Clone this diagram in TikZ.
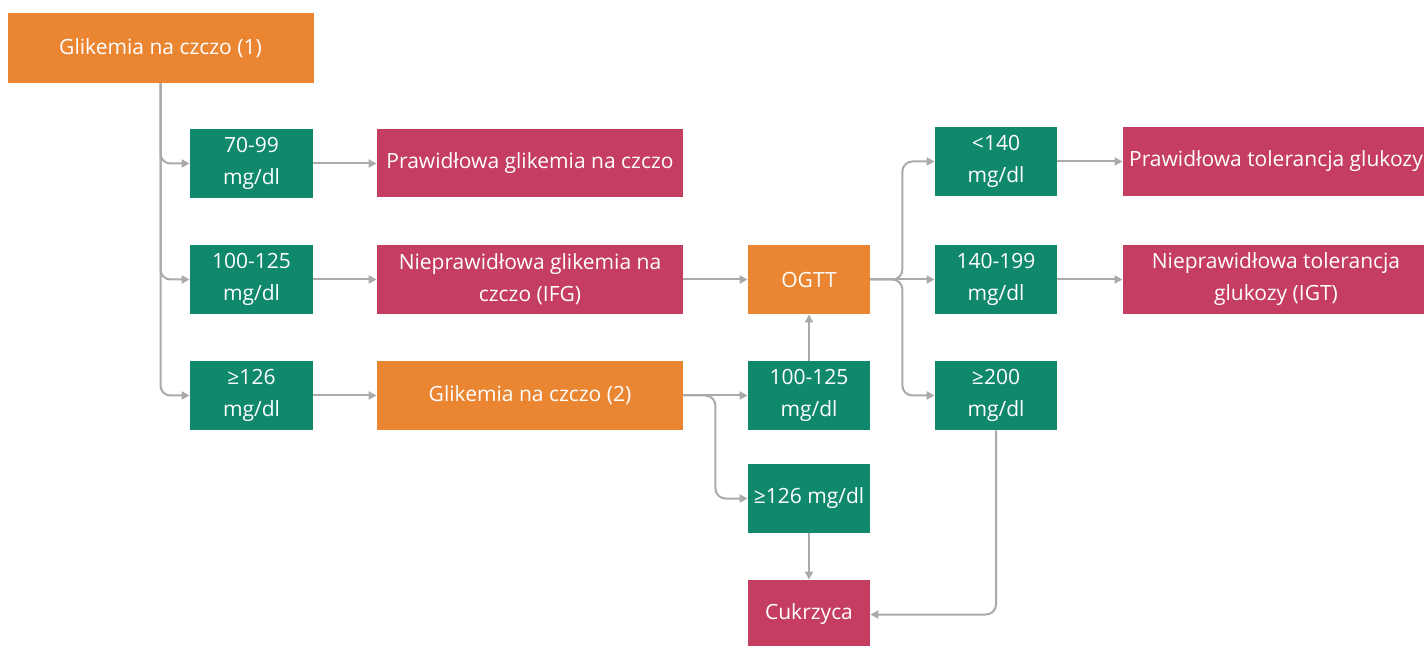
\documentclass[tikz,border=0pt]{standalone}
\usepackage{fontspec}
\setmainfont{Open Sans}
\usetikzlibrary{arrows.meta}
\definecolor{pomarancz}{RGB}{234,133,50}
\definecolor{zielen}{RGB}{15,136,107}
\definecolor{roz}{RGB}{197,62,98}
\definecolor{szary}{RGB}{170,170,170}
\begin{document}
\begin{tikzpicture}[x=0.5pt,y=-0.5pt,
    blok/.style={inner sep=0pt,align=center,text=white,font=\fontsize{10.5}{16}\selectfont},
    badanie/.style={blok,fill=pomarancz,minimum width=153pt,minimum height=34.5pt},
    pomiar/.style={blok,fill=zielen,minimum width=61.5pt,minimum height=34.5pt},
    wynik/.style={blok,fill=roz,minimum width=153pt,minimum height=34pt},
    conn/.style={draw=szary,line width=1pt,rounded corners=5pt,-{Triangle[length=4pt,width=4pt]}}]
  \useasboundingbox (0,0) rectangle (1424,646);
  \node[badanie,minimum height=35pt] (start) at (160.5,48) {Glikemia na czczo (1)};
  \node[pomiar] (g1) at (251.5,163.5) {70-99\\mg/dl};
  \node[pomiar] (g2) at (251.5,279.5) {100-125\\mg/dl};
  \node[pomiar] (g3) at (251.5,395.5) {≥126\\mg/dl};
  \node[wynik] (p1) at (530,163.5) {Prawidłowa glikemia na czczo};
  \node[wynik,minimum height=34.5pt] (p2) at (530,279.5) {Nieprawidłowa glikemia na\\czczo (IFG)};
  \node[badanie] (o2) at (530,395.5) {Glikemia na czczo (2)};
  \node[badanie,minimum width=61pt] (ogtt) at (809,279.5) {OGTT};
  \node[pomiar,minimum width=61pt] (g4) at (809,395.5) {100-125\\mg/dl};
  \node[pomiar,minimum width=61pt] (g5) at (809,498.5) {≥126 mg/dl};
  \node[wynik,minimum width=61pt,minimum height=34.5pt] (cuk) at (809,614.5) {Cukrzyca};
  \node[pomiar,minimum width=61pt] (g6) at (996,161.5) {<140\\mg/dl};
  \node[pomiar,minimum width=61pt] (g7) at (996,279.5) {140-199\\mg/dl};
  \node[pomiar,minimum width=61pt] (g8) at (996,395.5) {≥200\\mg/dl};
  \node[wynik,minimum height=34.5pt] (p3) at (1276,161.5) {Prawidłowa tolerancja glukozy};
  \node[wynik,minimum height=34.5pt] (p4) at (1276,279.5) {Nieprawidłowa tolerancja\\glukozy (IGT)};
  \foreach \c in {g1,g2,g3}
    \draw[conn] (start.south) |- (\c.west);
  \foreach \a\b in {g1/p1,g2/p2,g3/o2,p2/ogtt,o2/g4,ogtt/g7,g6/p3,g7/p4}
    \draw[conn] (\a) -- (\b);
  \draw[conn] (o2.east) -- ++(32,0) |- (g5.west);
  \draw[conn] (g4) -- (ogtt);
  \foreach \c in {g6,g8}
    \draw[conn] (ogtt.east) -- ++(32,0) |- (\c.west);
  \draw[conn] (g5) -- (cuk);
  \draw[conn] (g8.south) |- (cuk.east);
\end{tikzpicture}
\end{document}
